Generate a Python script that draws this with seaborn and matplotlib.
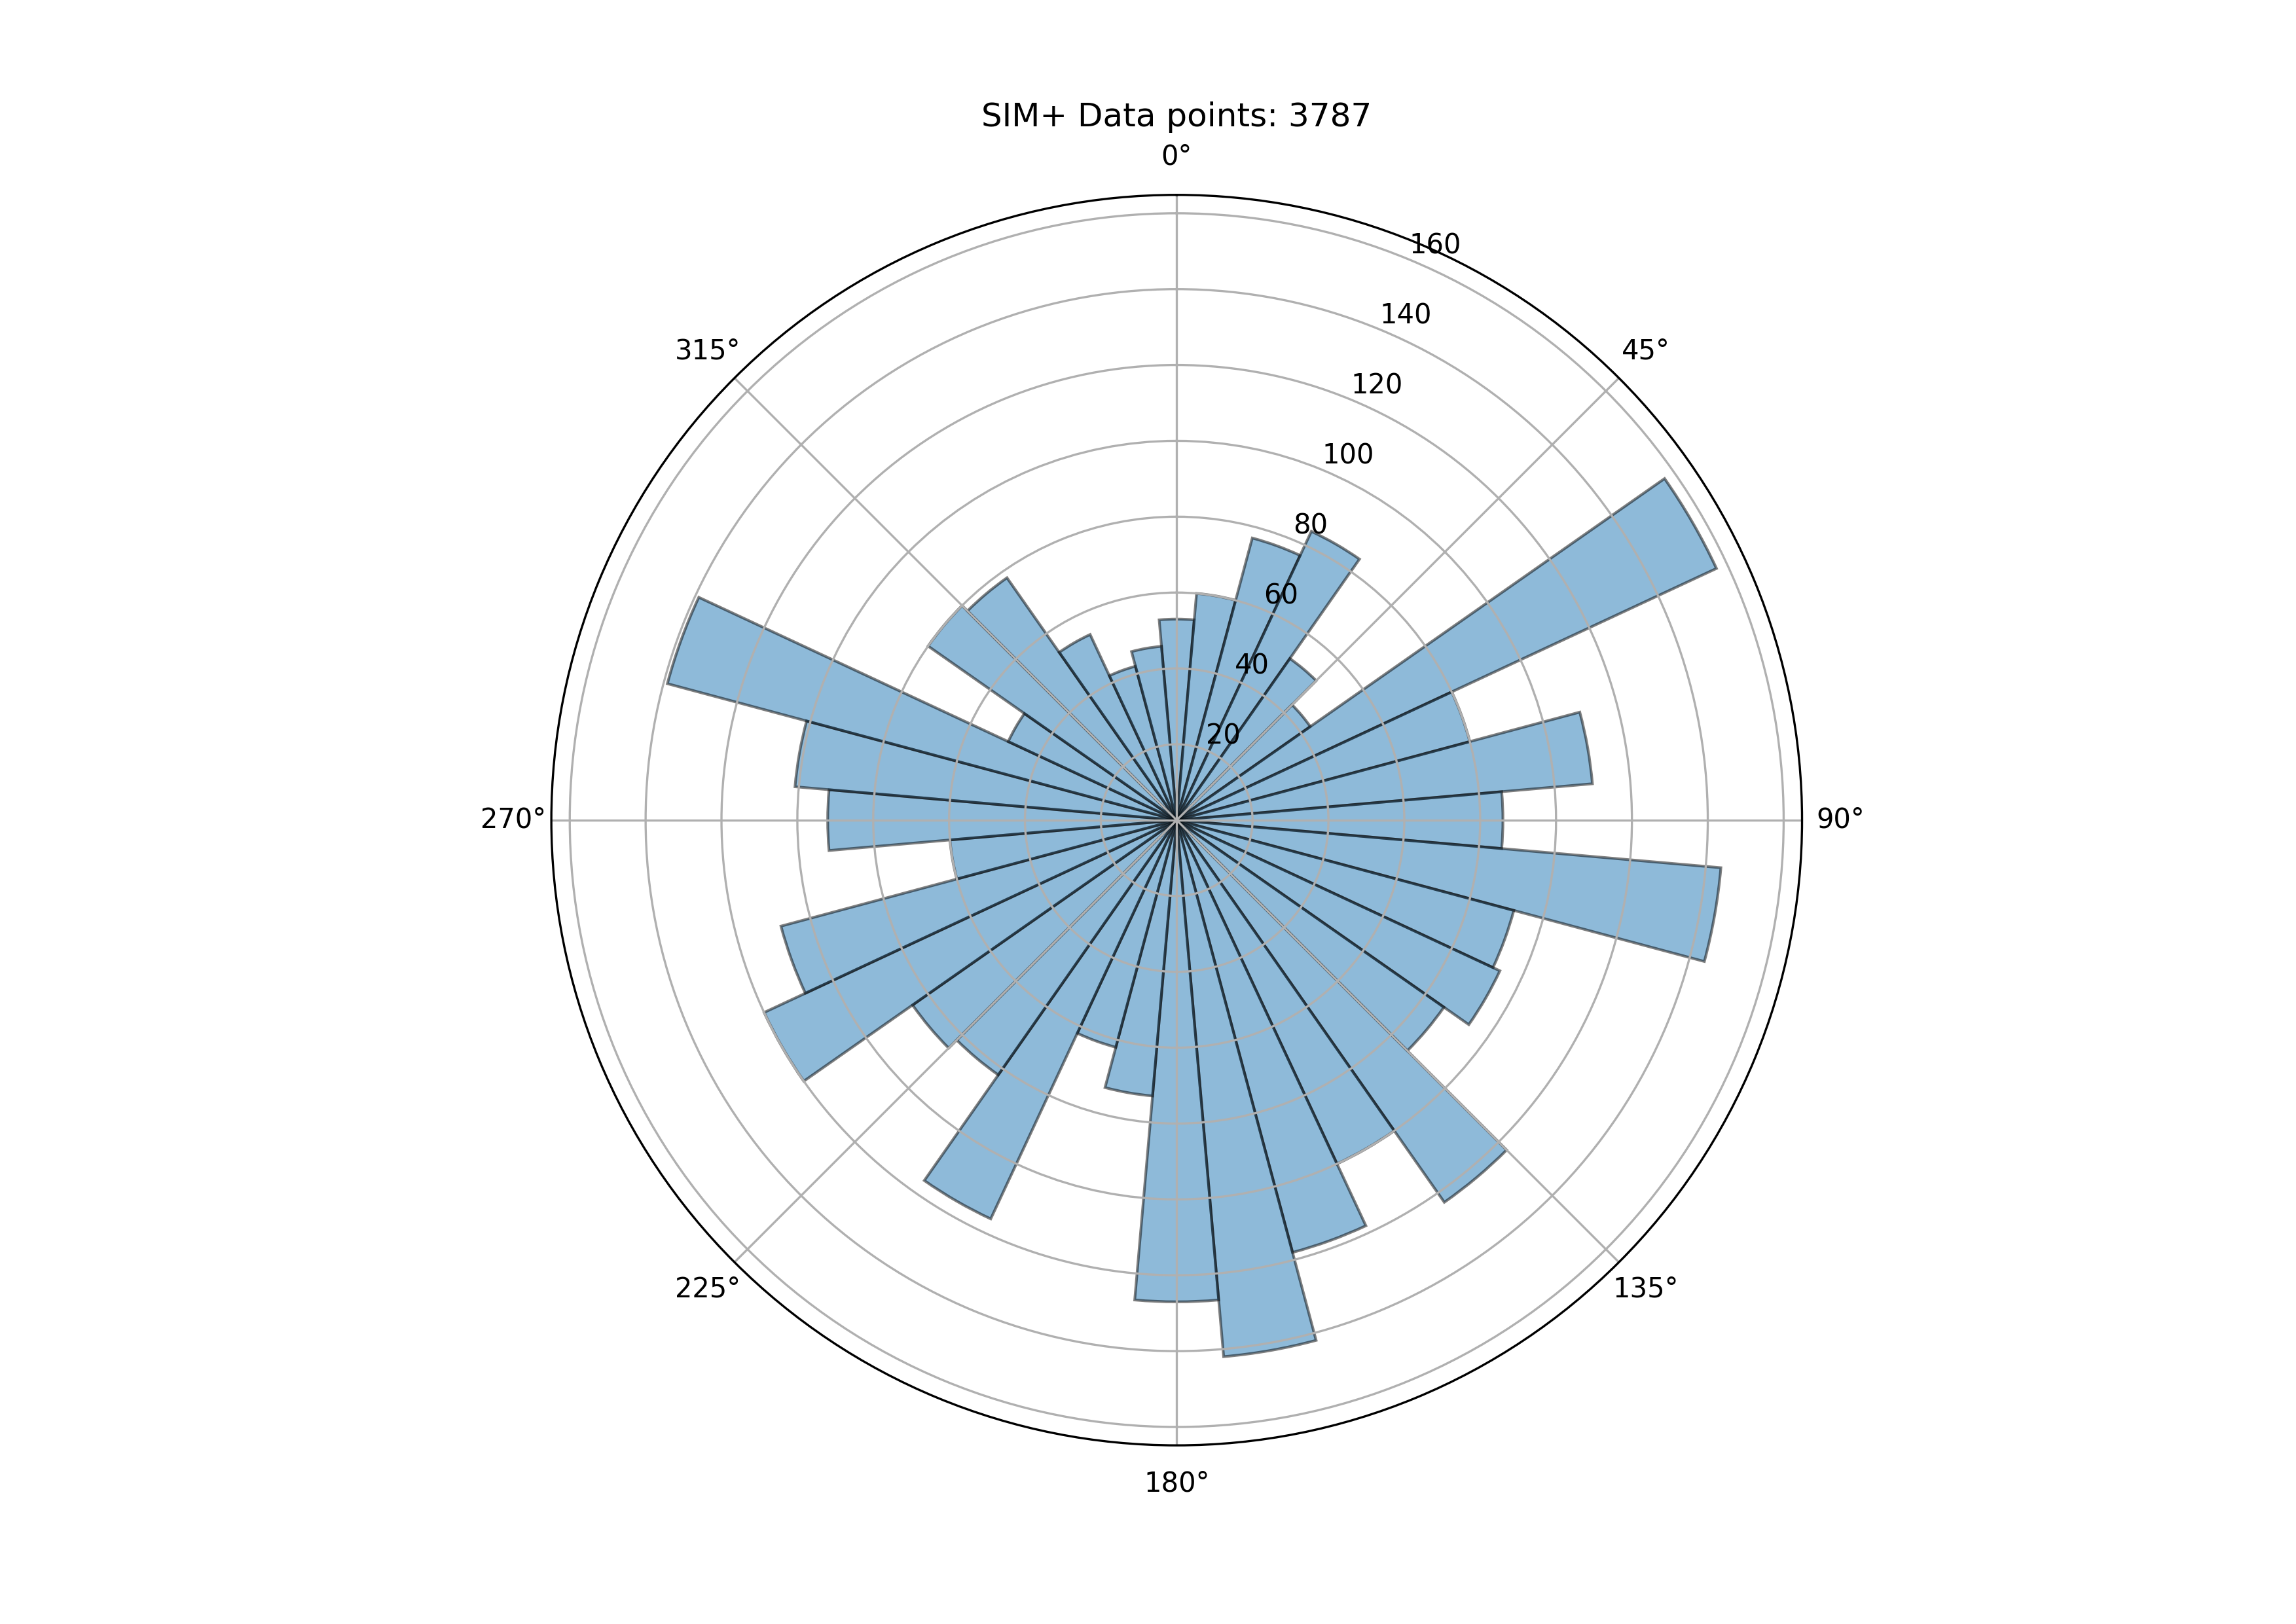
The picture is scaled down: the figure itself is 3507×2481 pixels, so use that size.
import numpy as np
import matplotlib
matplotlib.use('Agg')
import matplotlib.pyplot as plt
import seaborn as sns

# bin centres (degrees, clockwise from north) and counts per 10° bin
bin_centers_deg = [0, 10, 20, 30, 40, 50, 60, 70, 80, 90,
                   100, 110, 120, 130, 140, 150, 160, 170, 180,
                   190, 200, 210, 220, 230, 240, 250, 260, 270,
                   280, 290, 300, 310, 320, 330, 340, 350]
counts = [53, 60, 77, 84, 52, 43, 157, 80, 110, 86,
          144, 92, 94, 86, 123, 100, 118, 142, 127,
          73, 62, 116, 82, 85, 120, 108, 60, 92,
          101, 139, 49, 80, 78, 54, 42, 46]
bin_width_deg = 10
n_points = 3787
title = f"SIM+ Data points: {n_points}"

bar_color = sns.color_palette()[0]

fig = plt.figure(figsize=(11.69, 8.27), dpi=300)
ax = fig.add_subplot(111, projection='polar')
ax.set_theta_zero_location('N')
ax.set_theta_direction(-1)

ax.bar(np.deg2rad(bin_centers_deg), counts, width=np.deg2rad(bin_width_deg),
       color=bar_color, edgecolor='k', alpha=0.5)

ax.set_title(title)

fig.savefig('out.png', dpi=300)
plt.close(fig)
